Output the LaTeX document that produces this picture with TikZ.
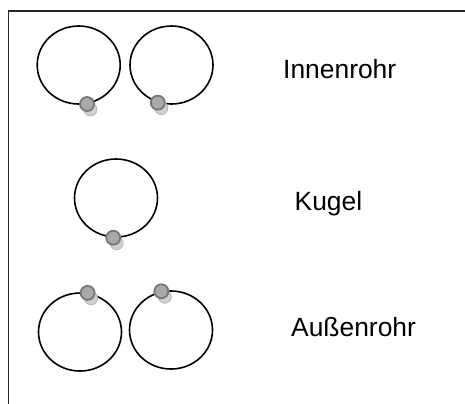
\documentclass[tikz,border=0pt]{standalone}
\usepackage{fontspec}
\setmainfont{Liberation Sans}
\usetikzlibrary{shapes.geometric}
\definecolor{ballfill}{HTML}{A9A9A9}
\definecolor{balledge}{HTML}{767676}
\definecolor{shadowfill}{HTML}{D0D0D0}
\definecolor{shadowedge}{HTML}{B8B8B8}
\tikzset{
  ring/.style={ellipse, draw=black, line width=1.6bp, minimum width=83bp,
    minimum height=78bp, inner sep=0pt},
  ball/.style={circle, fill=ballfill, draw=balledge, line width=1.8bp,
    minimum size=14bp, inner sep=0pt},
  ballshadow/.style={circle, fill=shadowfill, draw=shadowedge, line width=0.8bp,
    minimum size=13bp, inner sep=0pt},
  caption/.style={anchor=base west, inner sep=0pt,
    font=\fontsize{26.4bp}{30bp}\selectfont},
}
\newcommand{\placeball}[2]{%
  \node[ballshadow] at ([shift={(3.5bp,-5.5bp)}]#1) {};
  \node[ball] (#2) at (#1) {};
}
\begin{document}
\begin{tikzpicture}[x=1bp,y=-1bp]
  \useasboundingbox (0,0) rectangle (465,403);
  % open frame along the top and left edges
  \draw[line width=1.5bp, black!85] (8.3,405) |- (467,11);

  % inner tube
  \node[ring] (r1) at (78.7,65) {};
  \node[ring] (r2) at (171.5,65) {};
  \placeball{r1.-78}{b1}
  \placeball{r2.-110}{b2}
  \node[caption] (t1) at (283,78) {Innenrohr};

  % ball
  \node[ring] (r3) at (116,198) {};
  \placeball{r3.-94}{b3}
  \node[caption] (t2) at (294.5,210) {Kugel};

  % outer tube
  \node[ring] (r4) at (80,332) {};
  \node[ring] (r5) at (171,330) {};
  \placeball{r4.79}{b4}
  \placeball{r5.104}{b5}
  \node[caption] (t3) at (291,336) {Außenrohr};
\end{tikzpicture}
\end{document}
